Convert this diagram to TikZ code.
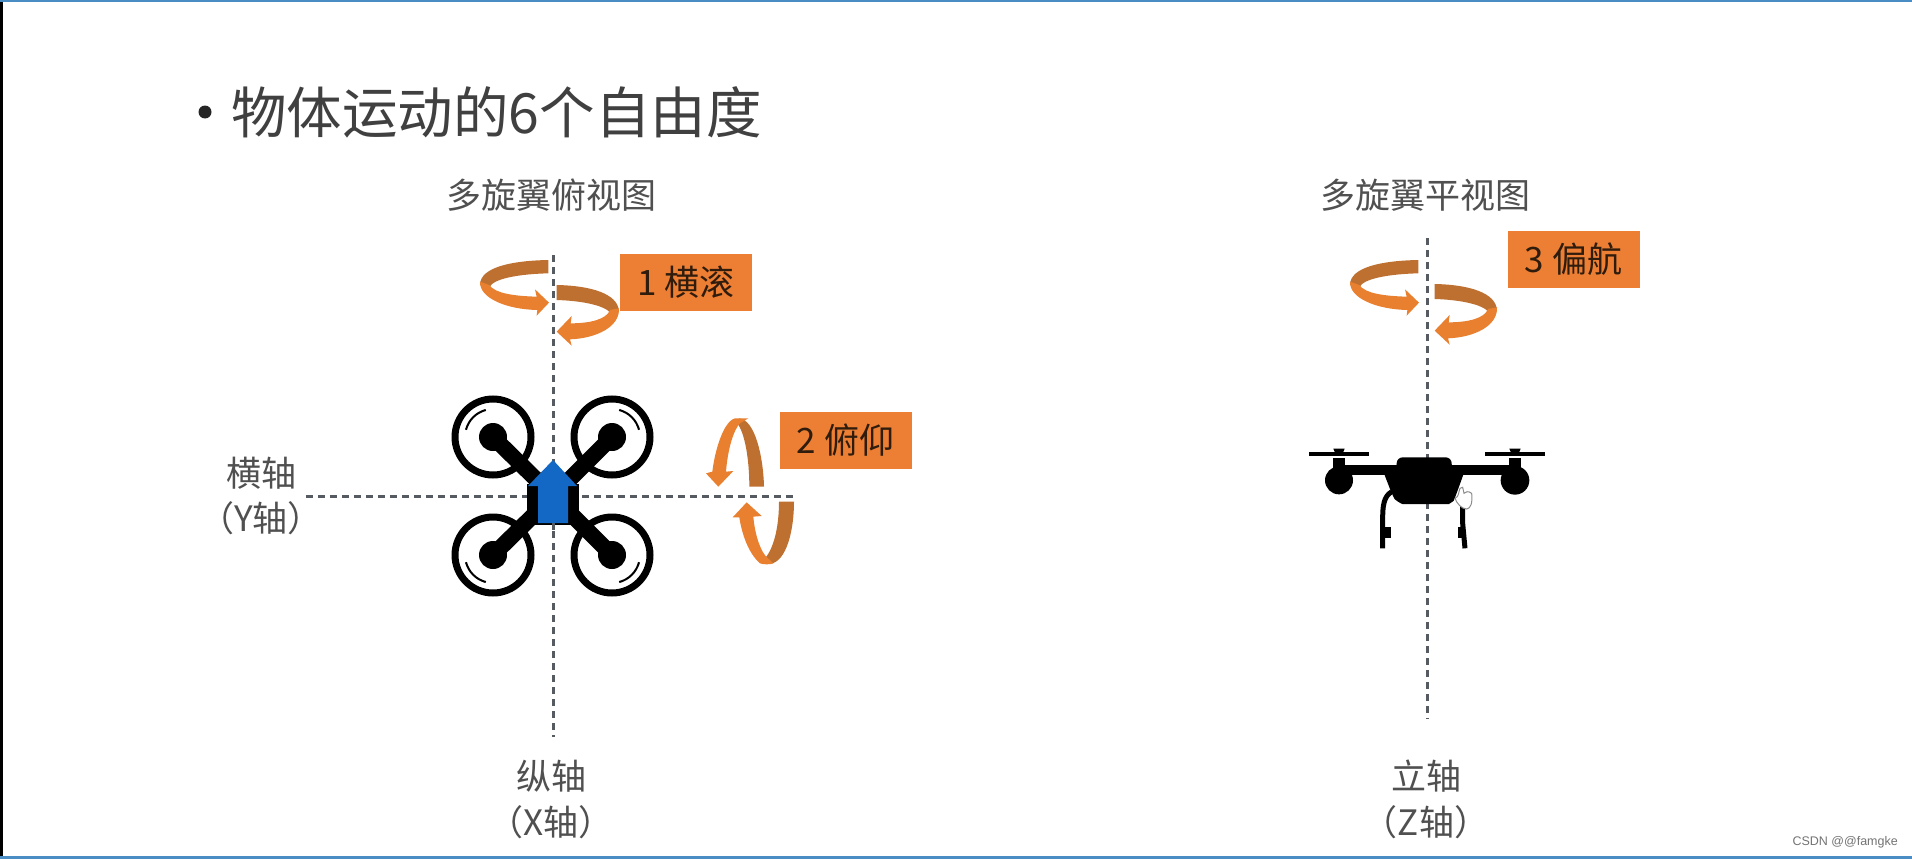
\documentclass[tikz,border=0pt]{standalone}
\usepackage{fontspec}
\setmainfont{Noto Sans CJK SC}
\newcommand{\fs}[1]{\fontsize{#1}{#1}\selectfont}
\definecolor{orangeA}{HTML}{E88030}
\definecolor{orangeB}{HTML}{BE7030}
\definecolor{boxor}{HTML}{ED7F35}
\definecolor{txtgray}{HTML}{505050}
\definecolor{axisgray}{HTML}{555B60}
\definecolor{blueA}{HTML}{1268C4}
\definecolor{framebl}{HTML}{4A8CC4}
\tikzset{
  axisline/.style={axisgray,line width=3pt,dash pattern=on 7pt off 5pt},
  lbl/.style={txtgray,font=\fs{35},inner sep=0pt},
  boxlbl/.style={fill=boxor,text=black!75!orangeB,font=\fs{35},inner sep=0pt,minimum width=132pt,minimum height=57pt},
  rotor/.style={circle,draw=black,line width=7pt,minimum size=76pt,inner sep=0pt},
  hub/.style={circle,fill=black,minimum size=28pt,inner sep=0pt},
  arm/.style={black,line width=16pt},
  ringarc/.style={black,line width=2pt},
  back/.style={fill=orangeB},
  front/.style={fill=orangeA},
  zoomA/.style={x=.33333pt,y=-.33333pt},
}
\newcommand{\leftribbon}{%
  \fill[back] (805,90) .. controls (700,92) and (600,110) .. (600,165) -- (628,172) .. controls (640,145) and (720,132) .. (805,130) -- cycle;
  \fill[front] (600,155) .. controls (598,205) and (680,238) .. (772,240) -- (770,257) -- (807,218) -- (765,178) -- (770,200) .. controls (700,198) and (645,190) .. (628,165) -- cycle;
}
\newcommand{\rightribbon}{%
  \fill[back] (830,165) .. controls (930,167) and (1015,190) .. (1017,245) -- (992,250) .. controls (975,225) and (900,212) .. (830,210) -- cycle;
  \fill[front] (1017,235) .. controls (1020,290) and (950,325) .. (870,328) -- (875,347) -- (830,305) -- (875,258) -- (872,280) .. controls (930,280) and (980,268) .. (990,240) -- cycle;
}
\begin{document}
\begin{tikzpicture}[x=1pt,y=-1pt]
\useasboundingbox (0,0) rectangle (1912,859);
\fill[white] (0,0) rectangle (1912,859);
% frame
\fill[black] (0,0) rectangle (3,859);
\fill[framebl] (0,0) rectangle (1912,2.5);
\fill[framebl] (0,856) rectangle (1912,859);
% title
\node[circle,fill=black!85,minimum size=13pt,inner sep=0pt] (bullet) at (205,112) {};
\node[anchor=west,inner sep=0pt,text=black!75,font=\fs{55.5}] (title) at (231,112) {物体运动的6个自由度};
\node[lbl] (topview) at (551,195) {多旋翼俯视图};
\node[lbl] (sideview) at (1425,195) {多旋翼平视图};
% axes
\coordinate (xa) at (553,255); \coordinate (xb) at (553,737);
\coordinate (ya) at (306,496); \coordinate (yb) at (793,496);
\coordinate (za) at (1427,238); \coordinate (zb) at (1427,719);
\draw[axisline] (xa) -- (xb);
\draw[axisline] (ya) -- (yb);
\draw[axisline] (za) -- (zb);
% axis labels
\node[lbl] (ylab) at (261,473) {横轴};
\node[lbl] (ylab2) at (261,518) {（Y轴）};
\node[lbl] (xlab) at (551,776) {纵轴};
\node[lbl] (xlab2) at (551,822) {（X轴）};
\node[lbl] (zlab) at (1426,776) {立轴};
\node[lbl] (zlab2) at (1426,822) {（Z轴）};
% boxes
\node[boxlbl] (b1) at (686,282.5) {1 横滚};
\node[boxlbl] (b2) at (845.5,440) {2 俯仰};
\node[boxlbl] (b3) at (1573.5,259) {3 偏航};
% ribbons, roll
\begin{scope}[shift={(280pt,-230pt)},zoomA]
  \leftribbon \rightribbon
\end{scope}
% ribbons, yaw
\begin{scope}[shift={(1150pt,-230pt)},zoomA]
  \leftribbon
\end{scope}
\begin{scope}[shift={(1158pt,-229pt)},zoomA]
  \rightribbon
\end{scope}
% ribbons, pitch
\begin{scope}[shift={(680pt,-390pt)},zoomA]
  \fill[back] (178,85) .. controls (225,90) and (250,200) .. (252,290) -- (208,290) .. controls (208,210) and (195,130) .. (172,100) -- cycle;
  \fill[front] (205,85) -- (165,85) .. controls (130,95) and (105,180) .. (97,245) -- (78,250) -- (115,290) -- (160,243) -- (138,245) .. controls (143,180) and (160,120) .. (180,100) -- cycle;
  \fill[back] (297,335) -- (342,335) .. controls (342,420) and (320,515) .. (270,522) -- (255,505) .. controls (285,470) and (297,400) .. (297,335) -- cycle;
  \fill[front] (200,337) -- (245,378) -- (220,380) .. controls (225,440) and (245,490) .. (262,503) -- (280,520) .. controls (270,524) and (250,524) .. (240,520) .. controls (205,490) and (185,430) .. (178,382) -- (158,382) -- cycle;
\end{scope}
% quad body
\foreach \n/\px/\py in {1/493/437,2/612/437,3/493/555,4/612/555}{
  \node[rotor] (r\n) at (\px,\py) {};
  \node[hub] (h\n) at (\px,\py) {};
}
\coordinate (cq) at (553,496);
\foreach \n in {1,2,3,4}{ \draw[arm] (h\n.center) -- (cq); }
\fill[black] (527,484) rectangle (579,525);
\draw[ringarc] (r1.center) ++(105:28pt) arc[start angle=105,end angle=165,radius=28pt];
\draw[ringarc] (r2.center) ++(15:28pt) arc[start angle=15,end angle=75,radius=28pt];
\draw[ringarc] (r3.center) ++(195:28pt) arc[start angle=195,end angle=255,radius=28pt];
\draw[ringarc] (r4.center) ++(285:28pt) arc[start angle=285,end angle=345,radius=28pt];
\fill[blueA] (553,460) -- (577,486) -- (568,486) -- (568,523) -- (538,523) -- (538,486) -- (528,486) -- cycle;
\draw[axisline] (553,523) -- (553,530);
% side view drone
\begin{scope}[shift={(1280pt,-210pt)},zoomA]
  \draw[black,line width=4pt] (88,733) -- (268,733);
  \draw[black,line width=4pt] (615,733) -- (795,733);
  \fill[black] (160,716) arc[start angle=180,end angle=0,x radius=17,y radius=17] -- cycle;
  \fill[black] (688,716) arc[start angle=180,end angle=0,x radius=17,y radius=17] -- cycle;
  \fill[black] (158,745) rectangle (196,790);
  \fill[black] (686,745) rectangle (724,790);
  \fill[black] (190,765) rectangle (690,794);
  \fill[black] (177,811) circle[radius=42];
  \fill[black] (705,811) circle[radius=43];
  \fill[black,rounded corners=6pt] (350,742) -- (515,742) -- (515,780) -- (555,780) -- (528,855) .. controls (520,875) and (505,882) .. (490,882) -- (385,882) .. controls (365,882) and (345,870) .. (335,850) -- (308,780) -- (350,780) -- cycle;
  \draw[black,line width=5pt] (335,845) .. controls (310,860) and (308,890) .. (308,930) -- (308,1015);
  \fill[black] (310,950) rectangle (332,985);
  \draw[black,line width=5pt] (548,880) -- (548,940) -- (555,1015);
  \fill[black] (535,950) rectangle (555,985);
  \draw[black!45,line width=1pt,fill=white] (540,835) .. controls (535,845) and (538,860) .. (525,865) .. controls (530,880) and (545,897) .. (560,897) .. controls (572,895) and (578,880) .. (575,850) .. controls (565,842) and (555,845) .. (552,850) -- (548,832) -- cycle;
\end{scope}
% watermark
\node[anchor=east,inner sep=0pt,text=black!55,font=\fontspec{Liberation Sans}\fs{12.5}] (csdn) at (1898,842) {CSDN @@famgke};
\end{tikzpicture}
\end{document}
